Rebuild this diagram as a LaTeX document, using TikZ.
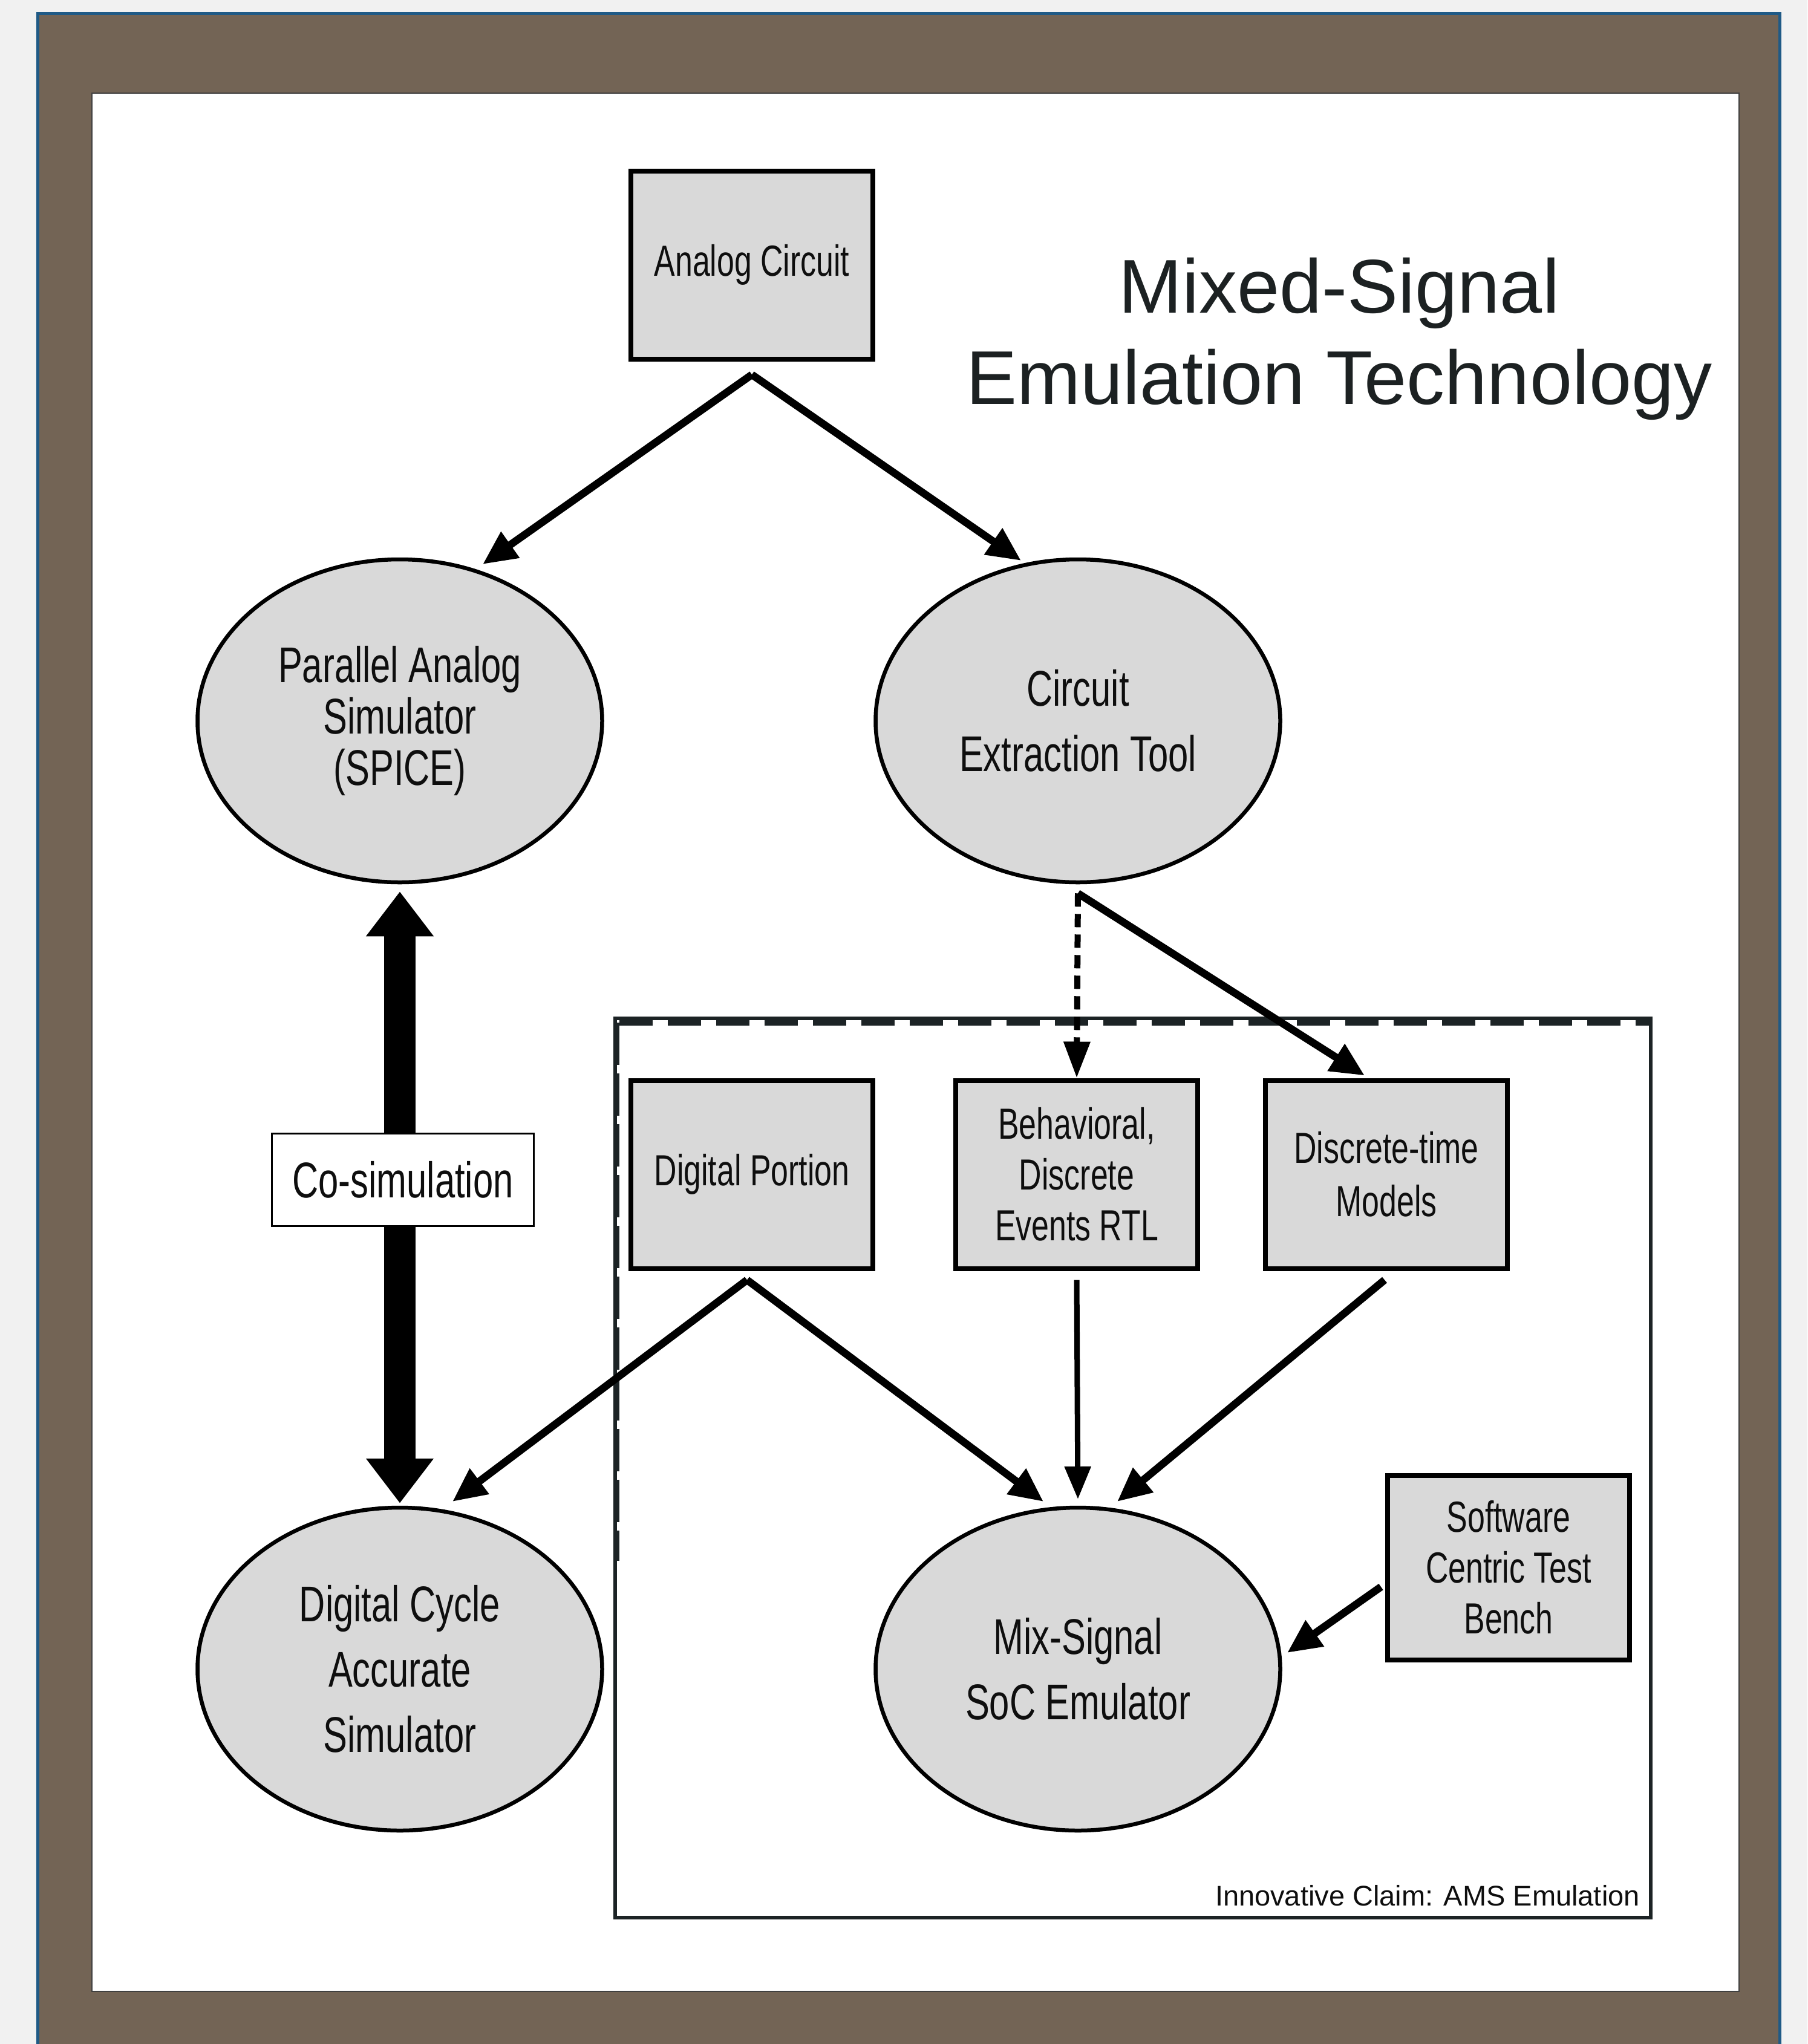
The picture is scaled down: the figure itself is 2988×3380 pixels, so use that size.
\documentclass[tikz,border=0pt]{standalone}
\usepackage{fontspec}
\setmainfont{Liberation Sans}
\newfontfamily\narrowfont[FakeStretch=0.72]{Liberation Sans}
\usetikzlibrary{arrows.meta,calc,shapes.geometric}
\definecolor{bgray}{HTML}{F1F1F1}
\definecolor{framebrown}{HTML}{736455}
\definecolor{frameblue}{HTML}{1F5A86}
\definecolor{boxfill}{HTML}{D9D9D9}
\definecolor{ink}{HTML}{0E0E0E}
\definecolor{titleink}{HTML}{1C2122}
\definecolor{boxline}{HTML}{1C2325}
\tikzset{
  boxnode/.style={rectangle, draw=black, fill=boxfill, line width=8pt,
    minimum width=400pt, minimum height=311pt, inner sep=0pt, text=ink,
    align=center, font=\narrowfont\fontsize{72}{84}\selectfont},
  ellnode/.style={ellipse, draw=black, fill=boxfill, line width=6.5pt,
    minimum width=669pt, minimum height=534pt, inner sep=0pt, text=ink,
    align=center, font=\narrowfont\fontsize{83}{108}\selectfont},
  arr/.style={line width=12.5pt, -{Triangle[length=56pt,width=50pt]}},
  thinarr/.style={line width=9pt, -{Triangle[length=54pt,width=42pt]}},
  dasharr/.style={line width=10pt, dash pattern=on 22pt off 12pt,
    -{Triangle[length=60pt,width=42pt]}},
  cosimarr/.style={line width=52pt,
    {Triangle[length=74pt,width=107pt]}-{Triangle[length=74pt,width=107pt]}},
}
\begin{document}
\begin{tikzpicture}[x=1pt,y=-1pt]
\useasboundingbox (0,0) rectangle (2988,3380);
\fill[bgray] (0,0) rectangle (2988,3380);
\fill[framebrown] (60,20) rectangle (2945,3420);
\draw[frameblue, line width=5pt] (62.5,3420) -- (62.5,22.5) -- (2942.5,22.5) -- (2942.5,3420);
\draw[fill=white, draw=black!75, line width=2.5pt] (152,154) rectangle (2875,3293);

% claim box
\node[rectangle, draw=boxline, line width=6pt, minimum width=1712pt,
  minimum height=1487pt, inner sep=0pt] (claim) at (1873,2427.5) {};
\draw[boxline, line width=10pt, dash pattern=on 55pt off 25pt]
  ($(claim.north west)+(10,10)$) -- ($(claim.north east)+(-5,10)$);
\draw[boxline, line width=4.5pt, dash pattern=on 70pt off 14pt]
  ($(claim.north west)+(8,10)$) -- ($(claim.north west)+(8,900)$);
\node[anchor=base east, text=ink, font=\fontsize{47}{56}\selectfont, inner sep=0pt]
  (claimtxt) at (2711,3151) {Innovative Claim: AMS Emulation};

% title
\node[align=center, text=titleink, font=\fontsize{126}{151}\selectfont, inner sep=0pt]
  (title) at (2214,560) {Mixed-Signal\\Emulation Technology};

% nodes
\node[boxnode] (ac) at (1243,438) {Analog Circuit};
\node[ellnode, font=\narrowfont\fontsize{83}{85}\selectfont] (pas) at (661,1192)
  {Parallel Analog\\Simulator\\(SPICE)};
\node[ellnode] (cet) at (1782,1192) {Circuit\\Extraction Tool};
\node[boxnode] (dp) at (1243,1942) {Digital Portion};
\node[boxnode] (beh) at (1780,1942) {Behavioral,\\Discrete\\Events RTL};
\node[boxnode, font=\narrowfont\fontsize{72}{88}\selectfont] (dt) at (2292,1942) {Discrete-time\\Models};
\node[boxnode, minimum height=305pt] (sctb) at (2494,2592) {Software\\Centric Test\\Bench};
\node[ellnode] (dcas) at (661,2760) {Digital Cycle\\Accurate\\Simulator};
\node[ellnode] (mse) at (1782,2760) {Mix-Signal\\SoC Emulator};

% connectors
\draw[arr] ($(ac.south)+(0,22)$) -- ($(pas.center)+(137,-259)$);
\draw[arr] ($(ac.south)+(0,22)$) -- ($(cet.center)+(-94,-265)$);
\draw[arr] ($(cet.south)+(0,15)$) -- ($(dt.north)+(-36,-4)$);
\draw[dasharr] ($(cet.south)+(0,15)$) -- (beh.north);
\draw[arr] ($(dp.south)+(-8,15)$) -- ($(dcas.center)+(87,-277)$);
\draw[arr] ($(dp.south)+(-8,15)$) -- ($(mse.center)+(-57,-277)$);
\draw[thinarr] ($(beh.south)+(0,15)$) -- ($(mse.center)+(0,-281)$);
\draw[arr] ($(dt.south)+(-3,15)$) -- ($(mse.center)+(65,-277)$);
\draw[arr] ($(sctb.west)+(-7,32)$) -- ($(mse.center)+(346,-27)$);

% co-simulation
\draw[cosimarr] ($(pas.south)+(0,12)$) -- ($(dcas.north)+(0,-4)$);
\node[rectangle, draw=black, line width=3pt, fill=white, minimum width=433pt,
  minimum height=153pt, inner sep=0pt, text=ink,
  font=\narrowfont\fontsize{83}{96}\selectfont] (cosim) at (666,1951) {Co-simulation};
\end{tikzpicture}
\end{document}
